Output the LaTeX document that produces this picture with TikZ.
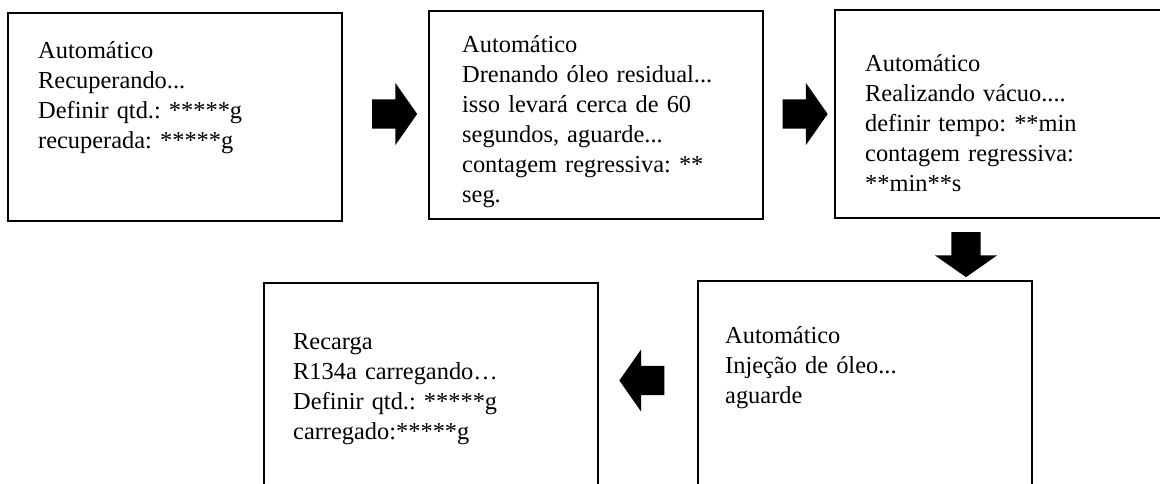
\documentclass[tikz,border=0pt]{standalone}
\usepackage{fontspec}
\setmainfont{Liberation Serif}
\usepackage{tikz}
\usetikzlibrary{shapes, arrows}
\usetikzlibrary{positioning, calc}

\frenchspacing
\tikzset{
    caixa/.style={draw, line width=2pt, anchor=north west, inner sep=0pt,
        minimum width=334pt, minimum height=208pt},
    texto/.style={anchor=base west, align=left, text width=320pt, inner sep=0pt,
        font=\fontsize{24.4}{30}\selectfont},
    seta/.style={single arrow, fill=black, draw=none, inner sep=0pt,
        text height=14.5pt, text depth=14.5pt, text width=0pt,
        minimum width=61pt, minimum height=45pt,
        single arrow head extend=16.5pt, single arrow tip angle=110}
}

\begin{document}
\begin{tikzpicture}[x=1pt, y=-1pt]
    \useasboundingbox (0,0) rectangle (1160,484);
    \clip (0,0) rectangle (1160,484);

    \node[caixa] (C1) at (7,12) {};
    \node[caixa] (C2) at (428,10) {};
    \node[caixa] (C3) at (834,9) {};
    \node[caixa] (C4) at (697,280) {};
    \node[caixa] (C5) at (263,282) {};

    \node[texto] (T1) at (38,59) {Automático\\Recuperando...\\Definir qtd.: *****g\\recuperada: *****g};
    \node[texto] (T2) at (462,53) {Automático\\Drenando óleo residual...\\isso levará cerca de 60\\segundos, aguarde...\\contagem regressiva: **\\seg.};
    \node[texto] (T3) at (865,72) {Automático\\Realizando vácuo....\\definir tempo: **min\\contagem regressiva:\\{}**min**s};
    \node[texto] (T4) at (725,343) {Automático\\Injeção de óleo...\\aguarde};
    \node[texto] (T5) at (293,349) {Recarga\\R134a carregando…\\Definir qtd.: *****g\\carregado:*****g};

    \node[seta] (S1) at (389.5,114) {};
    \node[seta] (S2) at (800,114) {};
    \node[seta, rotate=270] (S3) at (966,249.5) {};
    \node[seta, rotate=180] (S4) at (647,380.5) {};
\end{tikzpicture}
\end{document}
